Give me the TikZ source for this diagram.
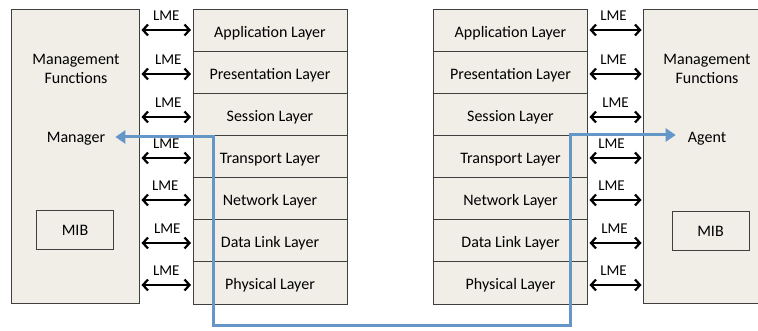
\documentclass[tikz,border=0pt]{standalone}
\usepackage{fontspec}
\setmainfont{Carlito}
\usetikzlibrary{arrows.meta,calc}
\definecolor{boxfill}{HTML}{F1EEE8}
\definecolor{boxline}{HTML}{3F3F3F}
\definecolor{flow}{HTML}{6496C8}
\tikzset{
  mgmt/.style={draw=boxline,fill=boxfill,line width=1pt,inner sep=0pt},
  layer/.style={draw=boxline,fill=boxfill,line width=1pt,minimum width=154pt,minimum height=42pt,inner sep=0pt},
  layertext/.style={font=\fontsize{16}{18}\selectfont,inner sep=0pt},
  mib/.style={draw=boxline,fill=boxfill,line width=1pt,minimum width=77pt,minimum height=39pt,inner sep=0pt,font=\fontsize{16}{18}\selectfont},
  lbl/.style={font=\fontsize{16}{19.5}\selectfont,inner sep=0pt,align=center},
  lme/.style={{Straight Barb[length=5pt,width=11pt,line width=2.2pt]}-{Straight Barb[length=5pt,width=11pt,line width=2.2pt]},line width=2.2pt,black,shorten <=1.5pt,shorten >=1.5pt},
  lmetext/.style={font=\fontsize{15}{17}\selectfont,inner sep=0pt,black},
  flowline/.style={flow,line width=3pt,{Triangle[length=10pt,width=13pt]}-{Triangle[length=10pt,width=13pt]}}
}
\begin{document}
\begin{tikzpicture}[x=1pt,y=-1pt]
\useasboundingbox (0,0) rectangle (758,331);

% management entities
\node[mgmt,anchor=north west,minimum width=128pt,minimum height=294pt] (mgrL) at (11,9) {};
\node[mgmt,anchor=north west,minimum width=140pt,minimum height=294pt] (mgrR) at (643,9) {};
\node[lbl] (mfL) at (76,69) {Management\\Functions};
\node[lbl] (manager) at (76,139) {Manager};
\node[mib] (mibL) at (75,230) {MIB};
\node[lbl] (mfR) at (707,69) {Management\\Functions};
\node[lbl] (agent) at (707,139) {Agent};
\node[mib] (mibR) at (710.5,231) {MIB};

% layer stacks (box plus its caption, set slightly below centre)
\foreach \name/\txt [count=\i from 0] in {app/Application Layer,pres/Presentation Layer,sess/Session Layer,trans/Transport Layer,net/Network Layer,dl/Data Link Layer,phy/Physical Layer}{
  \node[layer] (L\name) at (270,31+42*\i) {};
  \node[layertext] (tL\name) at ($(L\name.center)+(0,2.5)$) {\txt};
  \node[layer] (R\name) at (510.5,31+42*\i) {};
  \node[layertext] (tR\name) at ($(R\name.center)+(0,2.5)$) {\txt};
}

% layer management entity links
\foreach \name/\dy/\ly/\lx/\rx in {app/-1/14/0/-2,pres/1/14/2/-2,sess/2/14/2/0,trans/1/14/0/-4,net/1/14/-1/-4,dl/2/14/1/-1,phy/2/14/0/-2}{
  \coordinate (aL\name) at ($(mgrL.east |- L\name.west)+(0,\dy)$);
  \coordinate (bL\name) at ($(L\name.west)+(0,\dy)$);
  \draw[lme] (aL\name) -- (bL\name) node[midway,lmetext,yshift=\ly pt,xshift=\lx pt] (meL\name) {LME};
  \coordinate (aR\name) at ($(R\name.east)+(0,\dy)$);
  \coordinate (bR\name) at ($(mgrR.west |- R\name.east)+(0,\dy)$);
  \draw[lme] (aR\name) -- (bR\name) node[midway,lmetext,yshift=\ly pt,xshift=\rx pt] (meR\name) {LME};
}

% manager-agent communication path
\coordinate (t1) at (213,137);
\coordinate (t2) at (213,325);
\coordinate (t3) at (570,325);
\coordinate (t4) at (570,135);
\draw[flowline] ($(manager.east)+(10,-2)$) -- (t1) -- (t2) -- (t3) -- (t4) -- ($(agent.west)+(-12,-4)$);
\end{tikzpicture}
\end{document}
